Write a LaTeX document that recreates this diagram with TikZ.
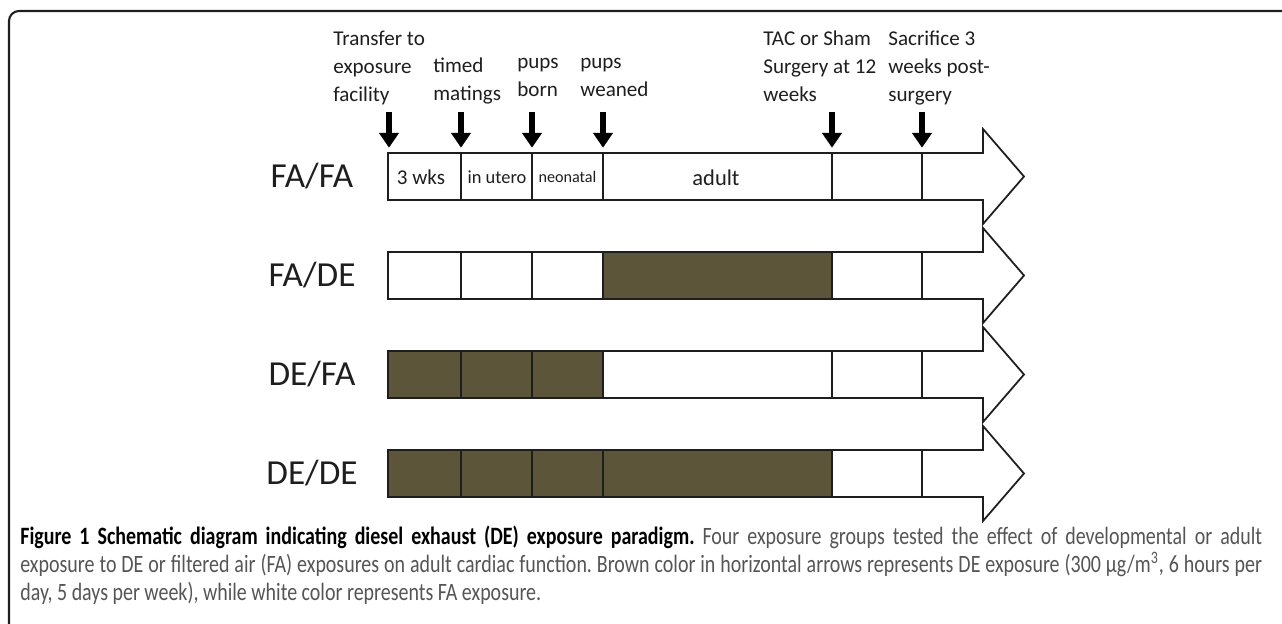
\documentclass[tikz,border=0pt]{standalone}
\usepackage{fontspec}
\setmainfont{Carlito}
\newfontfamily\capfont{Carlito}[FakeStretch=0.8]
\usetikzlibrary{arrows.meta}
\definecolor{debrown}{RGB}{93,85,58}
\definecolor{ink}{RGB}{30,30,30}
\definecolor{capgray}{RGB}{85,85,85}
\tikzset{
  band/.style={draw=ink,line width=1pt,fill=white},
  de/.style={draw=ink,line width=1pt,fill=debrown},
  sep/.style={draw=ink,line width=1pt},
  drop/.style={line width=3.8pt,-{Triangle[width=11pt,length=8.5pt]},shorten >=3pt},
  lbl/.style={anchor=north west,align=left,inner sep=0pt,text=ink,
    font=\fontsize{12}{15.8}\selectfont},
  grp/.style={text=ink,font=\fontsize{20}{24}\selectfont},
  seg/.style={text=ink,inner sep=0pt}
}
\begin{document}
\begin{tikzpicture}[x=0.02cm,y=-0.02cm]
  \useasboundingbox (0,0) rectangle (1282,624);
  \draw[ink,line width=1.2pt,rounded corners=5.7pt] (9,640) -- (9,11) -- (1300,11);

  % time points on top of the first row
  \coordinate (top) at (0,112);
  \coordinate (m0) at (389,153);
  \coordinate (m1) at (461,153);
  \coordinate (m2) at (532,153);
  \coordinate (m3) at (603,153);
  \coordinate (m4) at (832,153);
  \coordinate (m5) at (922,153);

  % FA/FA
  \draw[band] (388,153) -- (983,153) -- (983,129) -- (1024,176.5) -- (983,224) -- (983,200) -- (388,200) -- cycle;
  \draw[sep] (461,153) -- (461,200) (532,153) -- (532,200) (603,153) -- (603,200)
    (832,153) -- (832,200) (922,153) -- (922,200);
  \node[grp] (fafa) at (312,176.5) {FA/FA};
  \node[seg,font=\fontsize{12}{14}\selectfont] (wks) at (421,177) {3 wks};
  \node[seg,font=\fontsize{10.5}{12}\selectfont] (utero) at (497,177) {in utero};
  \node[seg,font=\fontsize{9.2}{11}\selectfont] (neo) at (567.5,177) {neonatal};
  \node[seg,font=\fontsize{12.8}{15}\selectfont] (adult) at (716,178) {adult};

  % FA/DE
  \draw[band] (388,252) -- (983,252) -- (983,228) -- (1024,275.5) -- (983,323) -- (983,299) -- (388,299) -- cycle;
  \draw[de] (603,252) rectangle (832,299);
  \draw[sep] (461,252) -- (461,299) (532,252) -- (532,299) (922,252) -- (922,299);
  \node[grp] (fade) at (312,275.5) {FA/DE};

  % DE/FA
  \draw[band] (388,351) -- (983,351) -- (983,327) -- (1024,374.5) -- (983,422) -- (983,398) -- (388,398) -- cycle;
  \draw[de] (388,351) rectangle (603,398);
  \draw[sep] (461,351) -- (461,398) (532,351) -- (532,398) (832,351) -- (832,398) (922,351) -- (922,398);
  \node[grp] (defa) at (312,374.5) {DE/FA};

  % DE/DE
  \draw[band] (388,450) -- (983,450) -- (983,426) -- (1024,473.5) -- (983,521) -- (983,497) -- (388,497) -- cycle;
  \draw[de] (388,450) rectangle (832,497);
  \draw[sep] (461,450) -- (461,497) (532,450) -- (532,497) (603,450) -- (603,497) (922,450) -- (922,497);
  \node[grp] (dede) at (312,473.5) {DE/DE};

  % events
  \node[lbl] (transfer) at (333,31) {Transfer to\\exposure\\facility};
  \node[lbl] (mating) at (433,58) {timed\\matings};
  \node[lbl] (born) at (517,58) {pups\\born};
  \node[lbl] (weaned) at (580,58) {pups\\weaned};
  \node[lbl] (tac) at (763,31) {TAC or Sham\\Surgery at 12\\weeks};
  \node[lbl] (sacrifice) at (888,31) {Sacrifice 3\\weeks post-\\surgery};
  \draw[drop] (m0 |- top) -- (m0);
  \draw[drop] (m1 |- top) -- (m1);
  \draw[drop] (m2 |- top) -- (m2);
  \draw[drop] (m3 |- top) -- (m3);
  \draw[drop] (m4 |- top) -- (m4);
  \draw[drop] (m5 |- top) -- (m5);

  % caption
  \node[anchor=north west,inner sep=0pt,text width=24.84cm,align=justify,text=capgray,
    font=\capfont\fontsize{14.2}{15.9}\selectfont] (caption) at (20,526)
    {\frenchspacing\tolerance=9999{\color{black}\bfseries Figure 1 Schematic diagram indicating diesel exhaust (DE) exposure paradigm.}
    Four exposure groups tested the effect of developmental or adult\linebreak
    exposure to DE or filtered air (FA) exposures on adult cardiac function. Brown color in horizontal arrows represents DE exposure (300 µg/m\textsuperscript{3}, 6 hours per\linebreak
    day, 5 days per week), while white color represents FA exposure.};
\end{tikzpicture}
\end{document}
